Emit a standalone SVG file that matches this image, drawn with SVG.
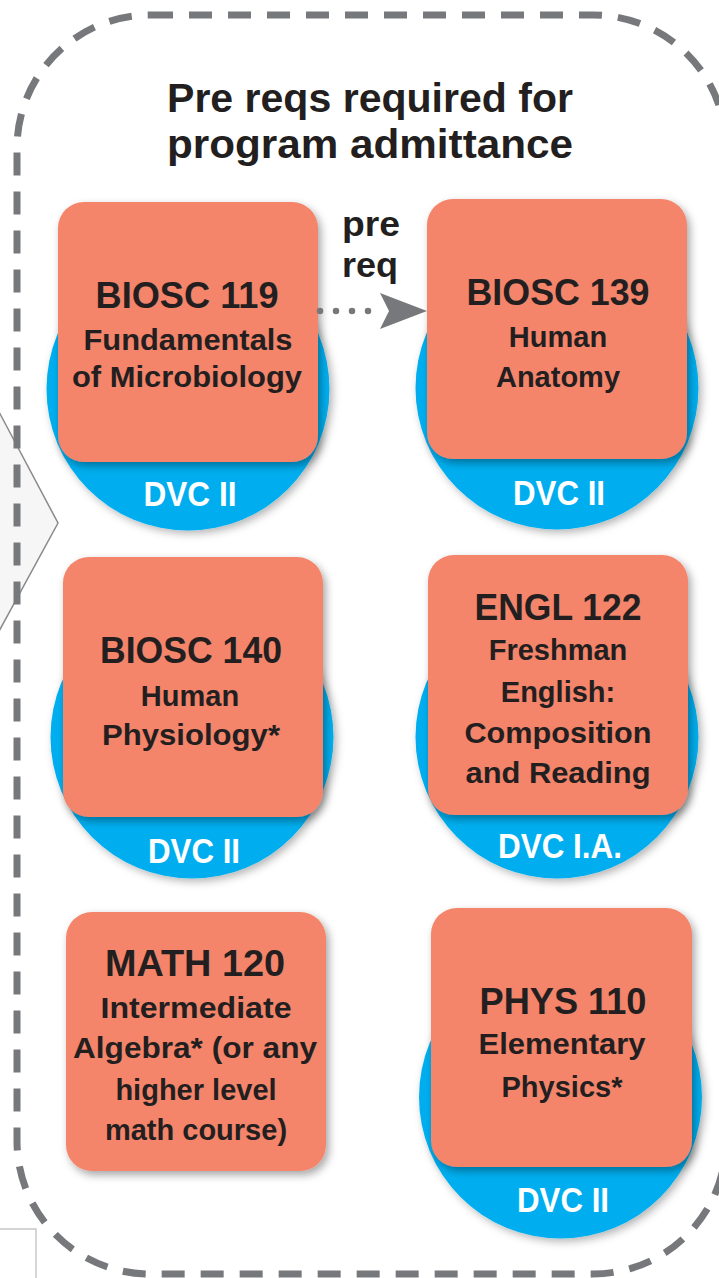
<svg xmlns="http://www.w3.org/2000/svg" width="719" height="1278" viewBox="0 0 719 1278">
<defs>
<style>
.box{fill:#f4846a;filter:url(#sh);}
.disc{fill:#00aeef;filter:url(#sh2);}
.code{font-family:"Liberation Sans",Arial,sans-serif;font-weight:bold;font-size:36px;fill:#231f20;text-anchor:middle;}
.sub{font-family:"Liberation Sans",Arial,sans-serif;font-weight:bold;font-size:29px;fill:#231f20;text-anchor:middle;}
.dvc{font-family:"Liberation Sans",Arial,sans-serif;font-weight:bold;font-size:35px;fill:#ffffff;text-anchor:middle;}
.title{font-family:"Liberation Sans",Arial,sans-serif;font-weight:bold;font-size:41px;fill:#231f20;}
.lbl{font-family:"Liberation Sans",Arial,sans-serif;font-weight:bold;font-size:35px;fill:#231f20;}
</style>
<filter id="sh" x="-20%" y="-20%" width="150%" height="150%">
<feDropShadow dx="3" dy="4" stdDeviation="4" flood-color="#000" flood-opacity="0.35"/>
</filter>
<filter id="sh2" x="-20%" y="-20%" width="150%" height="150%">
<feDropShadow dx="3" dy="3" stdDeviation="4" flood-color="#000" flood-opacity="0.3"/>
</filter>
</defs>
<rect x="0" y="0" width="719" height="1278" fill="#ffffff"/>
<g id="side-shapes">
<polygon points="-2,410 58,523 -2,633" fill="#f6f6f6" stroke="#8a8a8a" stroke-width="1.5"/>
<rect x="-5" y="1229" width="41" height="60" fill="#ffffff" stroke="#c8c8c8" stroke-width="1.5"/>
</g>
<g id="frame">
<rect x="17" y="15" width="709" height="1259" rx="133" ry="133" fill="none" stroke="#77787b" stroke-width="7" stroke-dasharray="23 16"/>
</g>
<g id="title">
<text class="title" x="167" y="112" textLength="406" lengthAdjust="spacingAndGlyphs">Pre reqs required for</text>
<text class="title" x="167" y="158" textLength="406" lengthAdjust="spacingAndGlyphs">program admittance</text>
</g>
<g id="node-biosc119">
<circle class="disc" cx="188" cy="389" r="141.5"/>
<rect class="box" x="58" y="202" width="260" height="260" rx="26"/>
<text class="code" x="187" y="308" textLength="183" lengthAdjust="spacingAndGlyphs">BIOSC 119</text>
<text class="sub" x="188" y="350" textLength="209" lengthAdjust="spacingAndGlyphs">Fundamentals</text>
<text class="sub" x="187" y="387" textLength="230" lengthAdjust="spacingAndGlyphs">of Microbiology</text>
<text class="dvc" x="190" y="506" textLength="93" lengthAdjust="spacingAndGlyphs">DVC II</text>
</g>
<g id="node-biosc139">
<circle class="disc" cx="557" cy="388" r="141.5"/>
<rect class="box" x="427" y="199" width="260" height="260" rx="26"/>
<text class="code" x="558" y="305" textLength="183" lengthAdjust="spacingAndGlyphs">BIOSC 139</text>
<text class="sub" x="558" y="347">Human</text>
<text class="sub" x="558" y="387">Anatomy</text>
<text class="dvc" x="559" y="505" textLength="92" lengthAdjust="spacingAndGlyphs">DVC II</text>
</g>
<g id="node-biosc140">
<circle class="disc" cx="192" cy="737" r="141.5"/>
<rect class="box" x="63" y="557" width="260" height="260" rx="26"/>
<text class="code" x="191" y="663" textLength="182" lengthAdjust="spacingAndGlyphs">BIOSC 140</text>
<text class="sub" x="190" y="706">Human</text>
<text class="sub" x="191" y="745" textLength="178" lengthAdjust="spacingAndGlyphs">Physiology*</text>
<text class="dvc" x="194" y="863" textLength="92" lengthAdjust="spacingAndGlyphs">DVC II</text>
</g>
<g id="node-engl122">
<circle class="disc" cx="557" cy="737" r="141.5"/>
<rect class="box" x="428" y="555" width="260" height="260" rx="26"/>
<text class="code" x="558" y="620" textLength="167" lengthAdjust="spacingAndGlyphs">ENGL 122</text>
<text class="sub" x="558" y="660">Freshman</text>
<text class="sub" x="558" y="702">English:</text>
<text class="sub" x="558" y="743" textLength="187" lengthAdjust="spacingAndGlyphs">Composition</text>
<text class="sub" x="558" y="783" textLength="185" lengthAdjust="spacingAndGlyphs">and Reading</text>
<text class="dvc" x="560" y="858" textLength="124" lengthAdjust="spacingAndGlyphs">DVC I.A.</text>
</g>
<g id="node-math120">
<rect class="box" x="66" y="912" width="260" height="259" rx="26"/>
<text class="code" x="195" y="976" textLength="180" lengthAdjust="spacingAndGlyphs">MATH 120</text>
<text class="sub" x="196" y="1018" textLength="191" lengthAdjust="spacingAndGlyphs">Intermediate</text>
<text class="sub" x="195" y="1058" textLength="244" lengthAdjust="spacingAndGlyphs">Algebra* (or any</text>
<text class="sub" x="196" y="1100">higher level</text>
<text class="sub" x="196" y="1140">math course)</text>
</g>
<g id="node-phys110">
<circle class="disc" cx="560.5" cy="1097" r="141.5"/>
<rect class="box" x="431" y="908" width="261" height="259" rx="26"/>
<text class="code" x="563" y="1014" textLength="167" lengthAdjust="spacingAndGlyphs">PHYS 110</text>
<text class="sub" x="562" y="1054" textLength="167" lengthAdjust="spacingAndGlyphs">Elementary</text>
<text class="sub" x="562" y="1097">Physics*</text>
<text class="dvc" x="563" y="1212" textLength="92" lengthAdjust="spacingAndGlyphs">DVC II</text>
</g>
<g id="connectors">
<path d="M320,311 L384,311" fill="none" stroke="#77787b" stroke-width="6.5" stroke-linecap="round" stroke-dasharray="0 16"/>
<polygon points="427,311 380,293 389,311 380,329" fill="#77787b"/>
<text class="lbl" x="342" y="236" textLength="58" lengthAdjust="spacingAndGlyphs">pre</text>
<text class="lbl" x="342" y="277" textLength="56" lengthAdjust="spacingAndGlyphs">req</text>
</g>
</svg>
